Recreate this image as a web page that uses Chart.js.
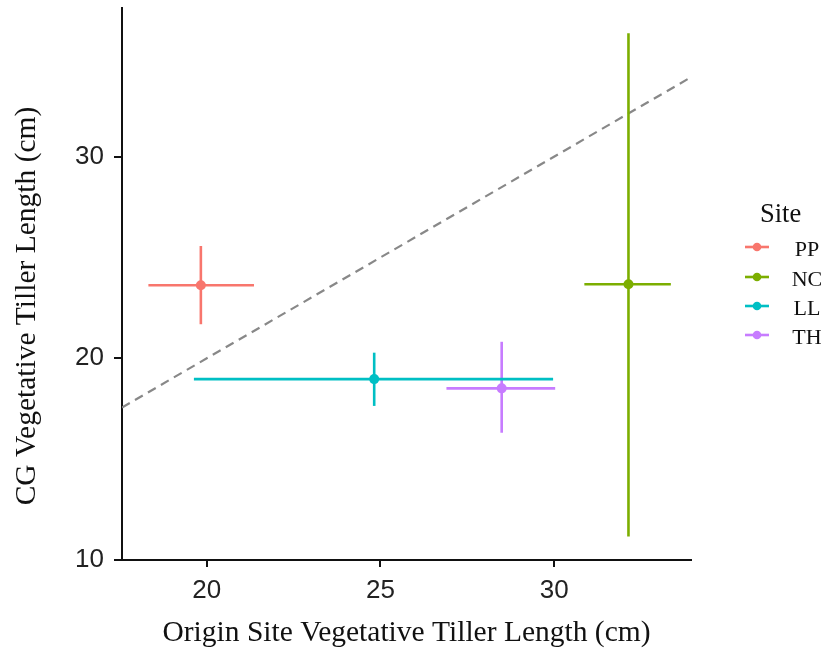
<!DOCTYPE html>
<html>
<head>
<meta charset="utf-8">
<script src="https://cdn.jsdelivr.net/npm/chart.js@4.4.1/dist/chart.umd.min.js"></script>
<style>
html,body{margin:0;padding:0;background:#fff;}
#wrap{width:829px;height:653px;position:relative;}
</style>
</head>
<body>
<div id="wrap"><canvas id="c" width="829" height="653"></canvas></div>
<script>
// ---- data ----
const sites = ['PP', 'NC', 'LL', 'TH'];
const siteColors = ['#F8766D', '#7CAE00', '#00BFC4', '#C77CFF'];
const xMean = [19.83, 32.14, 24.82, 28.49];
const yMean = [23.62, 23.67, 18.97, 18.51];
const xLow  = [18.32, 30.87, 19.63, 26.90];
const xHigh = [21.36, 33.36, 29.97, 30.03];
const yLow  = [21.69, 11.16, 17.64, 16.31];
const yHigh = [25.57, 36.12, 20.28, 20.82];
const xTicks = [20, 25, 30];
const yTicks = [10, 20, 30];
const xRange = [17.56, 33.94];
const yRange = [10, 37.37];
const xTitle = 'Origin Site Vegetative Tiller Length (cm)';
const yTitle = 'CG Vegetative Tiller Length (cm)';
const legendTitle = 'Site';

// ---- datasets ----
const datasets = [];
datasets.push({
  type: 'line', label: '1:1',
  data: [{x: xRange[0], y: xRange[0]}, {x: xRange[1], y: xRange[1]}],
  borderColor: '#888888', borderWidth: 2.2, borderDash: [9, 6],
  pointRadius: 0, fill: false, tension: 0, order: 10
});
sites.forEach((s, i) => {
  datasets.push({
    type: 'line', label: s + ' x',
    data: [{x: xLow[i], y: yMean[i]}, {x: xHigh[i], y: yMean[i]}],
    borderColor: siteColors[i], borderWidth: 2.6, pointRadius: 0, fill: false, order: 5
  });
  datasets.push({
    type: 'line', label: s + ' y',
    data: [{x: xMean[i], y: yLow[i]}, {x: xMean[i], y: yHigh[i]}],
    borderColor: siteColors[i], borderWidth: 2.6, pointRadius: 0, fill: false, order: 5
  });
  datasets.push({
    type: 'scatter', label: s,
    data: [{x: xMean[i], y: yMean[i]}],
    backgroundColor: siteColors[i], borderColor: siteColors[i],
    pointRadius: 5, borderWidth: 0, order: 1
  });
});

const serif = '"Liberation Serif", "Times New Roman", serif';
const sans = '"Liberation Sans", Arial, sans-serif';

const annotate = {
  id: 'annotate',
  afterDraw(chart) {
    const ctx = chart.ctx;
    const ca = chart.chartArea;
    ctx.save();
    // axis titles
    ctx.fillStyle = '#111';
    ctx.font = '29.5px ' + serif;
    ctx.textAlign = 'center';
    ctx.textBaseline = 'middle';
    ctx.fillText(xTitle, (ca.left + ca.right) / 2, 633);
    ctx.save();
    ctx.translate(27, 306);
    ctx.rotate(-Math.PI / 2);
    ctx.fillText(yTitle, 0, 0);
    ctx.restore();
    // legend
    ctx.font = '26.5px ' + serif;
    ctx.textAlign = 'left';
    ctx.fillText(legendTitle, 760, 215);
    const ys = [247, 277, 306, 335];
    ctx.font = '22px ' + serif;
    sites.forEach((s, i) => {
      const y = ys[i];
      ctx.strokeStyle = siteColors[i];
      ctx.lineWidth = 2.6;
      ctx.beginPath();
      ctx.moveTo(745, y);
      ctx.lineTo(769, y);
      ctx.stroke();
      ctx.fillStyle = siteColors[i];
      ctx.beginPath();
      ctx.arc(757, y, 4.3, 0, Math.PI * 2);
      ctx.fill();
      ctx.fillStyle = '#111';
      ctx.textAlign = 'center';
      ctx.fillText(s, 807, y + 3);
    });
    ctx.restore();
  }
};

new Chart(document.getElementById('c'), {
  data: { datasets },
  options: {
    responsive: false,
    animation: false,
    events: [],
    layout: { padding: { left: 0, top: 8, right: 138, bottom: 0 } },
    plugins: { legend: { display: false }, tooltip: { enabled: false }, title: { display: false } },
    scales: {
      x: {
        type: 'linear', min: xRange[0], max: xRange[1],
        afterFit(scale) { scale.height = 93; scale.paddingLeft = 0; scale.paddingRight = 0; },
        afterBuildTicks(scale) { scale.ticks = xTicks.map(v => ({value: v})); },
        border: { display: true, color: '#111', width: 2 },
        grid: { drawOnChartArea: false, drawTicks: true, tickLength: 7, color: '#111', lineWidth: 2 },
        ticks: { color: '#222', font: { family: sans, size: 26 }, padding: 8, maxRotation: 0 }
      },
      y: {
        type: 'linear', min: yRange[0], max: yRange[1],
        afterFit(scale) { scale.width = 122; scale.paddingTop = 0; scale.paddingBottom = 0; },
        afterBuildTicks(scale) { scale.ticks = yTicks.map(v => ({value: v})); },
        border: { display: true, color: '#111', width: 2 },
        grid: { drawOnChartArea: false, drawTicks: true, tickLength: 8, color: '#111', lineWidth: 2 },
        ticks: { color: '#222', font: { family: sans, size: 26 }, padding: 10 }
      }
    }
  },
  plugins: [annotate]
});
</script>
</body>
</html>
